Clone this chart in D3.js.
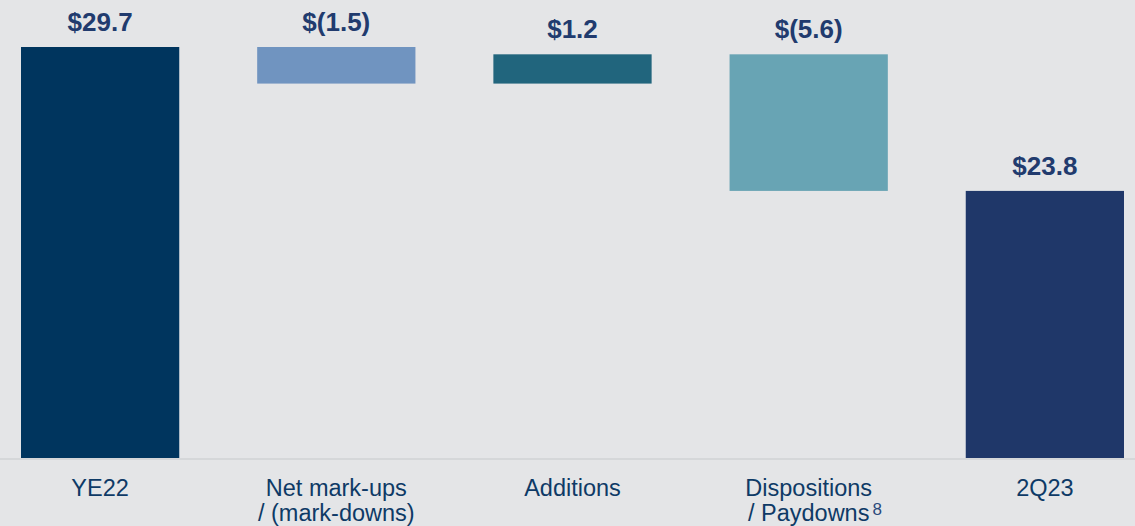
<!DOCTYPE html>
<html>
<head>
<meta charset="utf-8">
<script src="https://cdn.jsdelivr.net/npm/d3@7"></script>
<style>
  html, body { margin: 0; padding: 0; background: #e4e5e7; }
  svg { display: block; font-family: "Liberation Sans", Arial, sans-serif; }
</style>
</head>
<body>
<svg id="chart"></svg>
<script>
const width = 1135;
const height = 526;

// data
const categories = ['YE22', 'Net mark-ups|/ (mark-downs)', 'Additions', 'Dispositions|/ Paydowns', '2Q23'];
const values = [29.7, -1.5, 1.2, -5.6, 23.8];
const kinds = ['total', 'delta', 'delta', 'delta', 'total'];
const valueLabels = ['$29.7', '$(1.5)', '$1.2', '$(5.6)', '$23.8'];
const footnotes = ['', '', '', '8', ''];
const colors = ['#00355e', '#7094c0', '#21657d', '#68a4b4', '#1f3769'];
// the source axis does not start at zero
const yDomain = [12.85, 29.7];

// build waterfall steps
let running = 0;
const steps = categories.map((c, i) => {
  let start, end;
  if (kinds[i] === 'total') {
    start = yDomain[0];
    end = values[i];
    running = values[i];
  } else {
    start = running;
    end = running + values[i];
    running = end;
  }
  return { cat: c, start, end, label: valueLabels[i], note: footnotes[i], color: colors[i] };
});

const svg = d3.select('#chart')
  .attr('width', width)
  .attr('height', height);

const x = d3.scaleBand()
  .domain(categories)
  .range([21, 1124])
  .paddingInner(0.33)
  .paddingOuter(0);

const y = d3.scaleLinear()
  .domain(yDomain)
  .range([458, 47]);

const cx = d => x(d.cat) + x.bandwidth() / 2;

// baseline
svg.append('line')
  .attr('x1', 0)
  .attr('x2', width)
  .attr('y1', y(yDomain[0]) + 1)
  .attr('y2', y(yDomain[0]) + 1)
  .attr('stroke', '#d0d2d5')
  .attr('stroke-width', 1.5);

// bars
svg.selectAll('.bar')
  .data(steps)
  .enter()
  .append('rect')
  .classed('bar', true)
  .attr('x', d => x(d.cat))
  .attr('width', x.bandwidth())
  .attr('y', d => y(Math.max(d.start, d.end)))
  .attr('height', d => Math.abs(y(d.start) - y(d.end)))
  .attr('fill', d => d.color);

// value labels
svg.selectAll('.value')
  .data(steps)
  .enter()
  .append('text')
  .classed('value', true)
  .attr('x', cx)
  .attr('y', d => y(Math.max(d.start, d.end)) - 16)
  .attr('text-anchor', 'middle')
  .attr('fill', '#213b6e')
  .style('font-size', '26px')
  .style('font-weight', 'bold')
  .text(d => d.label);

// category labels, one text per line so that the footnote can hang off the end
steps.forEach(d => {
  const lines = d.cat.split('|');
  lines.forEach((line, i) => {
    const t = svg.append('text')
      .classed('cat', true)
      .attr('x', cx(d))
      .attr('y', 496 + i * 25)
      .attr('text-anchor', 'middle')
      .attr('fill', '#0e3a66')
      .style('font-size', '23.5px')
      .text(line);
    if (d.note && i === lines.length - 1) {
      const w = t.node().getComputedTextLength();
      svg.append('text')
        .classed('note', true)
        .attr('x', cx(d) + w / 2 + 3)
        .attr('y', 496 + i * 25 - 6)
        .attr('fill', '#2b4a7c')
        .style('font-size', '17px')
        .text(d.note);
    }
  });
});
</script>
</body>
</html>
